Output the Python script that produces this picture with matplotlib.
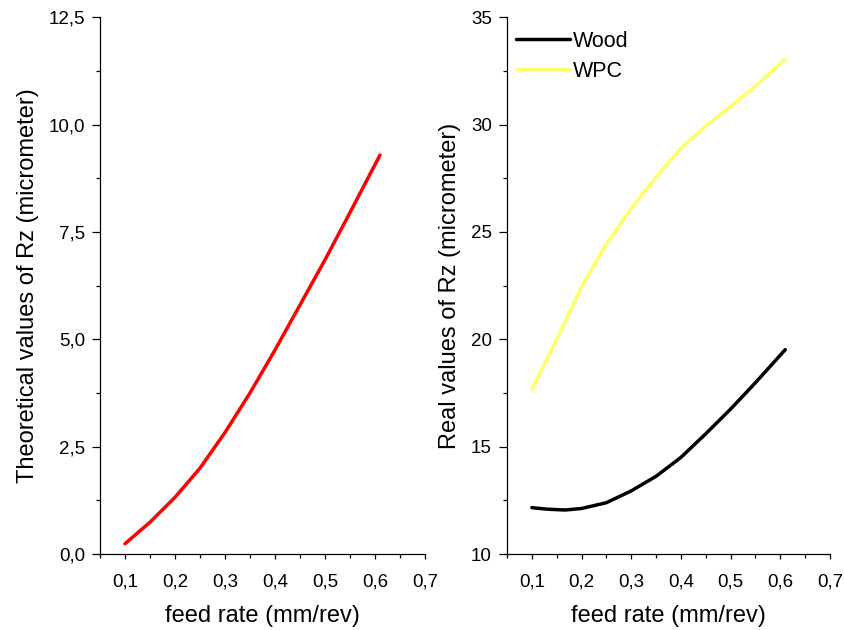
import matplotlib
matplotlib.use("Agg")
import matplotlib.pyplot as plt
from matplotlib.ticker import MultipleLocator, FuncFormatter

# values
feed = [0.10, 0.15, 0.20, 0.25, 0.30, 0.35, 0.40, 0.45, 0.50, 0.55, 0.61]
rz_theory = [0.24, 0.74, 1.32, 2.00, 2.83, 3.75, 4.75, 5.80, 6.85, 7.95, 9.29]
feed_wood = [0.10, 0.13, 0.167, 0.20, 0.25, 0.30, 0.35, 0.40, 0.45, 0.50, 0.55, 0.61]
rz_wood = [12.16, 12.09, 12.05, 12.12, 12.39, 12.94, 13.62, 14.50, 15.60, 16.75, 17.98, 19.52]
rz_wpc = [17.67, 20.00, 22.45, 24.45, 26.10, 27.55, 28.90, 29.95, 30.85, 31.80, 33.05]

plt.rcParams["font.family"] = ["Liberation Sans", "DejaVu Sans"]

comma = lambda fmt: FuncFormatter(lambda v, p: (fmt % v).replace(".", ","))

fig = plt.figure(figsize=(8.44, 6.3), dpi=100)
axL = fig.add_axes([0.1185, 0.1206, 0.385, 0.852])
axR = fig.add_axes([0.6007, 0.1206, 0.3827, 0.852])

axL.plot(feed, rz_theory, color="#ff0000", lw=2.5, solid_capstyle="round")
axR.plot(feed_wood, rz_wood, color="black", lw=2.5, label="Wood", solid_capstyle="round")
axR.plot(feed, rz_wpc, color="#ffff66", lw=2.5, label="WPC", solid_capstyle="round")

for ax in (axL, axR):
    ax.set_xlim(0.05, 0.7)
    ax.xaxis.set_major_locator(MultipleLocator(0.1))
    ax.xaxis.set_minor_locator(MultipleLocator(0.05))
    ax.xaxis.set_major_formatter(comma("%.1f"))
    ax.spines[["top", "right"]].set_visible(False)
    for s in ("left", "bottom"):
        ax.spines[s].set_linewidth(0.9)
    ax.tick_params(which="both", direction="out", width=0.9, labelsize=13.5)
    ax.tick_params(axis="y", which="major", length=5.8, pad=5)
    ax.tick_params(axis="y", which="minor", length=2.9)
    ax.tick_params(axis="x", which="major", length=3.8, pad=10)
    ax.tick_params(axis="x", which="minor", length=2.9)
    ax.set_xlabel("feed rate (mm/rev)", fontsize=17, labelpad=11)

axL.set_ylim(0, 12.5)
axL.yaxis.set_major_locator(MultipleLocator(2.5))
axL.yaxis.set_minor_locator(MultipleLocator(1.25))
axL.yaxis.set_major_formatter(comma("%.1f"))
axL.set_ylabel("Theoretical values of Rz (micrometer)", fontsize=17, labelpad=7)

axR.set_ylim(10, 35)
axR.yaxis.set_major_locator(MultipleLocator(5))
axR.yaxis.set_minor_locator(MultipleLocator(2.5))
axR.set_ylabel("Real values of Rz (micrometer)", fontsize=17, labelpad=7)
axR.legend(loc="upper left", frameon=False, fontsize=15.5, handlelength=2.5,
           handletextpad=0.16, labelspacing=0.42, borderpad=0, borderaxespad=0,
           bbox_to_anchor=(0.028, 0.975))

fig.savefig("out.png", dpi=100)
